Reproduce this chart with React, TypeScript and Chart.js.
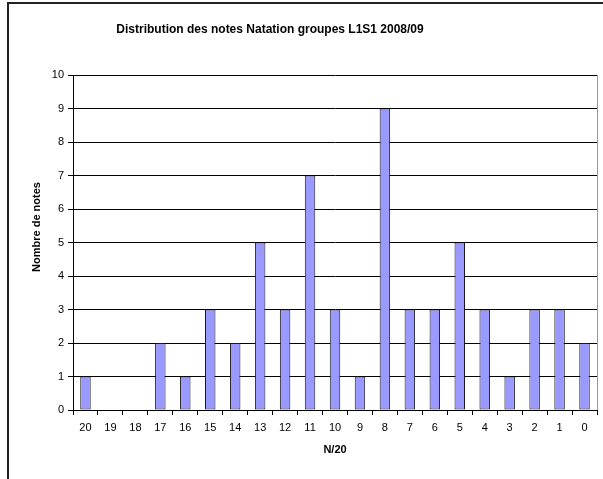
import React, { useEffect, useRef } from "react";
import { Chart, registerables } from "chart.js";

Chart.register(...registerables);

const TITLE = "Distribution des notes Natation groupes L1S1 2008/09";
const Y_TITLE = "Nombre de notes";
const X_TITLE = "N/20";
const CATEGORIES = ["20", "19", "18", "17", "16", "15", "14", "13", "12", "11", "10", "9", "8", "7", "6", "5", "4", "3", "2", "1", "0"];
const COUNTS = [1, 0, 0, 2, 1, 3, 2, 5, 3, 7, 3, 1, 9, 3, 3, 5, 3, 1, 3, 3, 2];
const Y_MIN = 0;
const Y_MAX = 10;
const Y_STEP = 1;

const FONT = "Arial, 'Liberation Sans', sans-serif";

const titlesPlugin = {
  id: "customTitles",
  afterDraw(chart: any) {
    const { ctx, chartArea } = chart;
    ctx.save();
    ctx.fillStyle = "#000";
    ctx.textAlign = "center";
    ctx.textBaseline = "middle";
    ctx.font = `bold 12px ${FONT}`;
    ctx.fillText(TITLE, 270, 30);
    ctx.font = `bold 11px ${FONT}`;
    ctx.fillText(X_TITLE, (chartArea.left + chartArea.right) / 2, 450);
    ctx.translate(37, 227);
    ctx.rotate(-Math.PI / 2);
    ctx.fillText(Y_TITLE, 0, 0);
    ctx.restore();
    // right border of plot area
    ctx.save();
    ctx.strokeStyle = "#9a9a9a";
    ctx.lineWidth = 1;
    ctx.beginPath();
    const x = Math.round(chartArea.right) + 0.5;
    ctx.moveTo(x, chartArea.top);
    ctx.lineTo(x, chartArea.bottom);
    ctx.stroke();
    ctx.restore();
  },
};

function BarChart() {
  const ref = useRef<HTMLCanvasElement>(null);
  useEffect(() => {
    if (!ref.current) return;
    const chart = new Chart(ref.current, {
      type: "bar",
      data: {
        labels: CATEGORIES,
        datasets: [
          {
            data: COUNTS,
            backgroundColor: "#9999FF",
            borderColor: "#1a1a1a",
            borderWidth: 1,
            borderSkipped: false,
            barPercentage: 0.42,
            categoryPercentage: 1,
          },
        ],
      },
      options: {
        responsive: false,
        animation: false,
        devicePixelRatio: 1,
        layout: { padding: { top: 75, left: 0, right: 6, bottom: 0 } },
        plugins: {
          legend: { display: false },
          title: { display: false },
          tooltip: { enabled: false },
        },
        scales: {
          x: {
            afterFit: (s: any) => {
              s.height = 69;
            },
            grid: {
              drawOnChartArea: false,
              drawTicks: true,
              tickLength: 5,
              color: "#000",
              offset: true,
            },
            border: { display: true, color: "#000" },
            ticks: {
              color: "#000",
              font: { family: FONT, size: 11 },
              padding: 6,
              maxRotation: 0,
              autoSkip: false,
            },
          },
          y: {
            min: Y_MIN,
            max: Y_MAX,
            afterFit: (s: any) => {
              s.width = 73;
            },
            grid: {
              color: "#000",
              tickLength: 5,
              drawTicks: true,
            },
            border: { display: true, color: "#000" },
            ticks: {
              stepSize: Y_STEP,
              color: "#000",
              font: { family: FONT, size: 11 },
              padding: 4,
            },
          },
        },
      },
      plugins: [titlesPlugin],
    });
    return () => chart.destroy();
  }, []);
  return (
    <canvas
      ref={ref}
      width={603}
      height={479}
      style={{ position: "absolute", left: 0, top: 0, width: 603, height: 479 }}
    />
  );
}

export default function App() {
  return (
    <div
      style={{
        position: "fixed",
        left: 0,
        top: 0,
        width: 603,
        height: 479,
        overflow: "hidden",
        background: "#fff",
      }}
    >
      <BarChart />
      <div
        style={{
          position: "absolute",
          left: 7,
          top: 2,
          width: 700,
          height: 600,
          borderLeft: "2px solid #222",
          borderTop: "2px solid #222",
          pointerEvents: "none",
        }}
      />
    </div>
  );
}
